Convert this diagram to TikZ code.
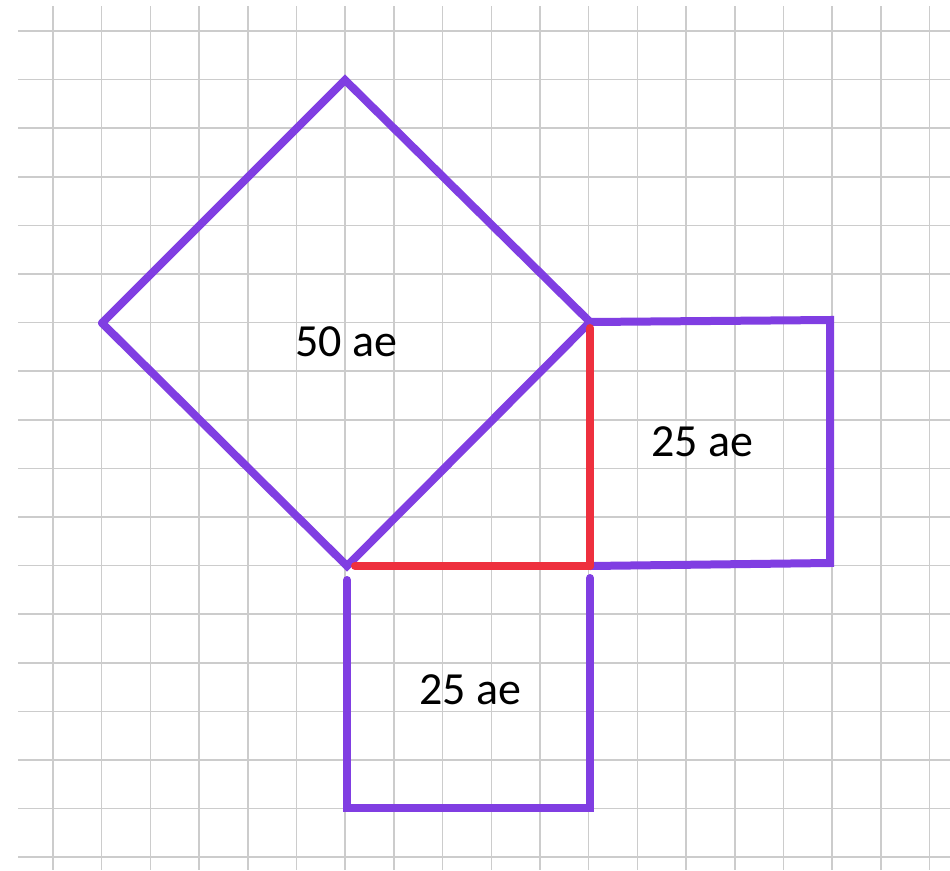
\documentclass[tikz,border=0pt]{standalone}
\usepackage{fontspec}
\setmainfont{Carlito}
\definecolor{pen}{RGB}{128,62,226}
\definecolor{redpen}{RGB}{238,48,62}
\definecolor{gridc}{RGB}{204,204,204}
\begin{document}
\begin{tikzpicture}[x=1pt,y=-1pt,
  gridline/.style={draw=gridc,line width=1.5pt},
  side/.style={draw=pen,line width=8pt,line cap=round},
  redside/.style={draw=redpen,line width=8pt,line cap=round},
  area/.style={font=\fontsize{46}{50}\selectfont,text=black,inner sep=0pt}]
\useasboundingbox (0,0) rectangle (950,870);
\fill[white] (0,0) rectangle (950,870);
% grid
\foreach \k in {0,...,18} {\draw[gridline] ({53+48.7*\k},6) -- ({53+48.7*\k},870);}
\foreach \k in {0,...,17} {\draw[gridline] (18,{31+48.6*\k}) -- (950,{31+48.6*\k});}
% vertices
\coordinate (T) at (345,80);
\coordinate (L) at (102,323);
\coordinate (B) at (347,566);
\coordinate (R) at (590,322);
\coordinate (C) at (590,566);
\coordinate (RT) at (830,320);
\coordinate (RB) at (830,563);
\coordinate (BL) at (347,808);
\coordinate (BR) at (590,808);
% diamond
\draw[side] (L) -- (T) -- (R);
\draw[side] (L) -- (B) -- (R);
% right square
\draw[side] (R) -- (RT) -- (RB) -- (C);
% bottom square
\draw[side] ([yshift=-14]B) -- (BL) -- (BR) -- ([yshift=-12]C);
% red legs
\draw[redside] ([xshift=8]B) -- (C);
\draw[redside] ([yshift=-6]R) -- (C);
% labels
\node[area] (big) at (346,342) {50 ae};
\node[area] (right) at (702,442) {25 ae};
\node[area] (bottom) at (470,690) {25 ae};
\end{tikzpicture}
\end{document}
